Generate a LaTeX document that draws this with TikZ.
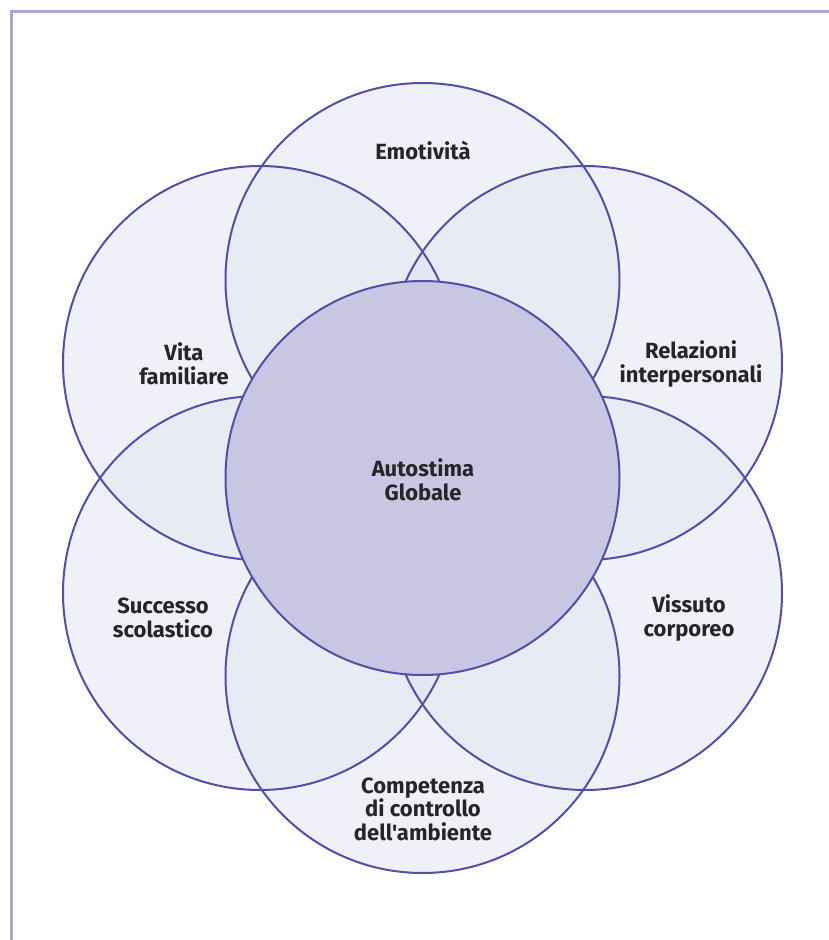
\documentclass[tikz,border=0pt]{standalone}
\usepackage{fontspec}
\newfontfamily\lblfont{Fira Sans}
\definecolor{ring}{HTML}{5050A6}
\definecolor{petal}{HTML}{E1E3F1}
\definecolor{core}{HTML}{C9C6E4}
\definecolor{framecol}{HTML}{A9A6D6}
\begin{document}
\begin{tikzpicture}[x=1pt,y=-1pt,
    lbl/.style={align=center,font=\lblfont\bfseries\fontsize{22}{23.5}\selectfont,text=black!85}]
    \useasboundingbox (0,0) rectangle (829,940);
    \draw [framecol,line width=3pt] (11,940) -- (11,11) -- (829,11);

    % petali
    \foreach \cx/\cy in {422.5/280,422.5/676,585/363,585/593,260/363,260/593}
        \fill [petal,fill opacity=0.5] (\cx,\cy) circle [radius=197pt];
    \foreach \cx/\cy in {422.5/280,422.5/676,585/363,585/593,260/363,260/593}
        \draw [ring,line width=2pt] (\cx,\cy) circle [radius=197pt];
    \filldraw [fill=core,draw=ring,line width=2pt] (422.5,478) circle [radius=197pt];

    \node[lbl] (emo) at (423,150) {Emotività};
    \node[lbl] (fam) at (184,364) {Vita\\familiare};
    \node[lbl] (rel) at (691,364) {Relazioni\\interpersonali};
    \node[lbl] (glob) at (423,480) {Autostima\\Globale};
    \node[lbl] (scol) at (163,618) {Successo\\scolastico};
    \node[lbl] (corp) at (689,618) {Vissuto\\corporeo};
    \node[lbl] (amb) at (423,809) {Competenza\\di controllo\\dell'ambiente};
\end{tikzpicture}
\end{document}
